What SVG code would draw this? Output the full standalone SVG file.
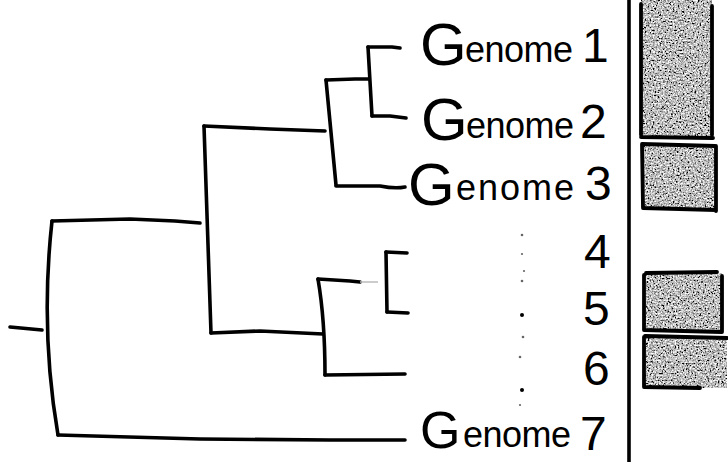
<svg xmlns="http://www.w3.org/2000/svg" width="728" height="462" viewBox="0 0 728 462">
<style>
.ln{fill:none;stroke:#000;stroke-width:3.6;stroke-linecap:round;stroke-linejoin:round}
.bx{fill:none;stroke:#000;stroke-width:3.8;stroke-linecap:round}
.t{font-family:"Liberation Sans","DejaVu Sans",sans-serif;fill:#000}
.big{font-size:60px}
.sm{font-size:36px}
.num{font-size:48px}
.dot{fill:#666}
</style>
<defs>
<filter id="grain" x="0" y="0" width="100%" height="100%">
<feTurbulence type="fractalNoise" baseFrequency="0.6" numOctaves="3" seed="4" result="n"/>
<feColorMatrix in="n" type="matrix" values="1.2 1.2 1.2 0 -1.3  1.2 1.2 1.2 0 -1.3  1.2 1.2 1.2 0 -1.3  0 0 0 0 1" result="g"/>
<feComposite in="g" in2="SourceGraphic" operator="in"/>
</filter>
</defs>
<rect width="728" height="462" fill="#fff"/>

<g id="connectors">
<path class="ln" d="M10,327 L42,330"/>
<path class="ln" d="M52,221 Q40,330 58,435"/>
<path class="ln" d="M52,221 L130,219 L175,221 L200,223"/>
<path class="ln" d="M204,126 L211,333"/>
<path class="ln" d="M204,126 L270,129 L325,131"/>
<path class="ln" d="M211,333 L260,331 L323,334"/>
<path class="ln" d="M326,80 L336,185"/>
<path class="ln" d="M326,80 L355,79 L369,79"/>
<path class="ln" d="M336,186 L380,186 Q395,189 405,187"/>
<path class="ln" d="M368,47 L372,116"/>
<path class="ln" d="M368,47 L392,47 L400,48"/>
<path class="ln" d="M372,116 L390,116 L406,118"/>
<path class="ln" d="M318,279 Q325,320 325,375"/>
<path class="ln" d="M318,279 L350,281 L360,282"/>
<path d="M360,282 L378,282" fill="none" stroke="#bbb" stroke-width="1.5"/>
<path class="ln" d="M325,375 L405,374"/>
<path class="ln" d="M386,252 L387,312"/>
<path class="ln" d="M386,252 L407,253"/>
<path class="ln" d="M387,312 L408,313"/>
<path class="ln" d="M58,435 L200,439 L330,440 L405,440"/>
</g>

<g id="divider"><path class="ln" d="M629,0 L629,462" stroke-width="3"/></g>

<g id="dots">
<circle class="dot" cx="522" cy="235" r="1.3"/>
<circle class="dot" cx="522" cy="254" r="1.1"/>
<circle class="dot" cx="524" cy="271" r="1.1"/>
<circle class="dot" cx="522" cy="281" r="1.3"/>
<circle cx="522" cy="315" r="2"/>
<circle class="dot" cx="523" cy="337" r="1.3"/>
<circle class="dot" cx="520" cy="357" r="1.3"/>
<circle cx="522" cy="390" r="2"/>
<circle class="dot" cx="520" cy="405" r="1.1"/>
</g>

<g id="genome1">
<text class="t" y="65"><tspan class="big" x="420">G</tspan><tspan class="sm" x="465" y="62" textLength="108" lengthAdjust="spacing">enome</tspan><tspan class="num" x="582" y="62">1</tspan></text>
</g>
<g id="genome2">
<text class="t" y="140"><tspan class="big" x="421">G</tspan><tspan class="sm" x="466" y="138" textLength="108" lengthAdjust="spacing">enome</tspan><tspan class="num" x="580" y="138">2</tspan></text>
</g>
<g id="genome3">
<text class="t" y="205"><tspan class="big" x="408">G</tspan><tspan class="sm" x="456" y="200" textLength="118" lengthAdjust="spacing">enome</tspan><tspan class="num" x="585" y="200">3</tspan></text>
</g>
<g id="genome4"><text class="t num" x="584" y="268">4</text></g>
<g id="genome5"><text class="t num" x="583" y="325">5</text></g>
<g id="genome6"><text class="t num" x="583" y="385">6</text></g>
<g id="genome7">
<text class="t" y="448"><tspan class="big" x="420" style="font-size:52px">G</tspan><tspan class="sm" x="463" y="447" textLength="108" lengthAdjust="spacing">enome</tspan><tspan class="num" x="580" y="450">7</tspan></text>
</g>

<g id="box1">
<rect x="641" y="0" width="71" height="137" fill="#fff" filter="url(#grain)"/>
<path class="bx" d="M641,4 L641,135 M712,6 L712,135 M641,137 L713,138"/>
</g>
<g id="box2">
<rect x="642" y="144" width="74" height="66" fill="#fff" filter="url(#grain)"/>
<path class="bx" d="M642,144 L715,146 M642,144 L643,208 M716,146 L716,211 M643,208 L716,210"/>
</g>
<g id="box3">
<rect x="644" y="273" width="78" height="59" fill="#fff" filter="url(#grain)"/>
<path class="bx" d="M646,273 L717,272 M644,275 L644,330 M722,276 L722,332 M644,330 L722,332"/>
</g>
<g id="box4">
<rect x="644" y="336" width="83" height="52" fill="#fff" filter="url(#grain)"/>
<path class="bx" d="M645,336 L727,338 M644,337 L644,387 M644,387 L700,388"/>
</g>
</svg>
